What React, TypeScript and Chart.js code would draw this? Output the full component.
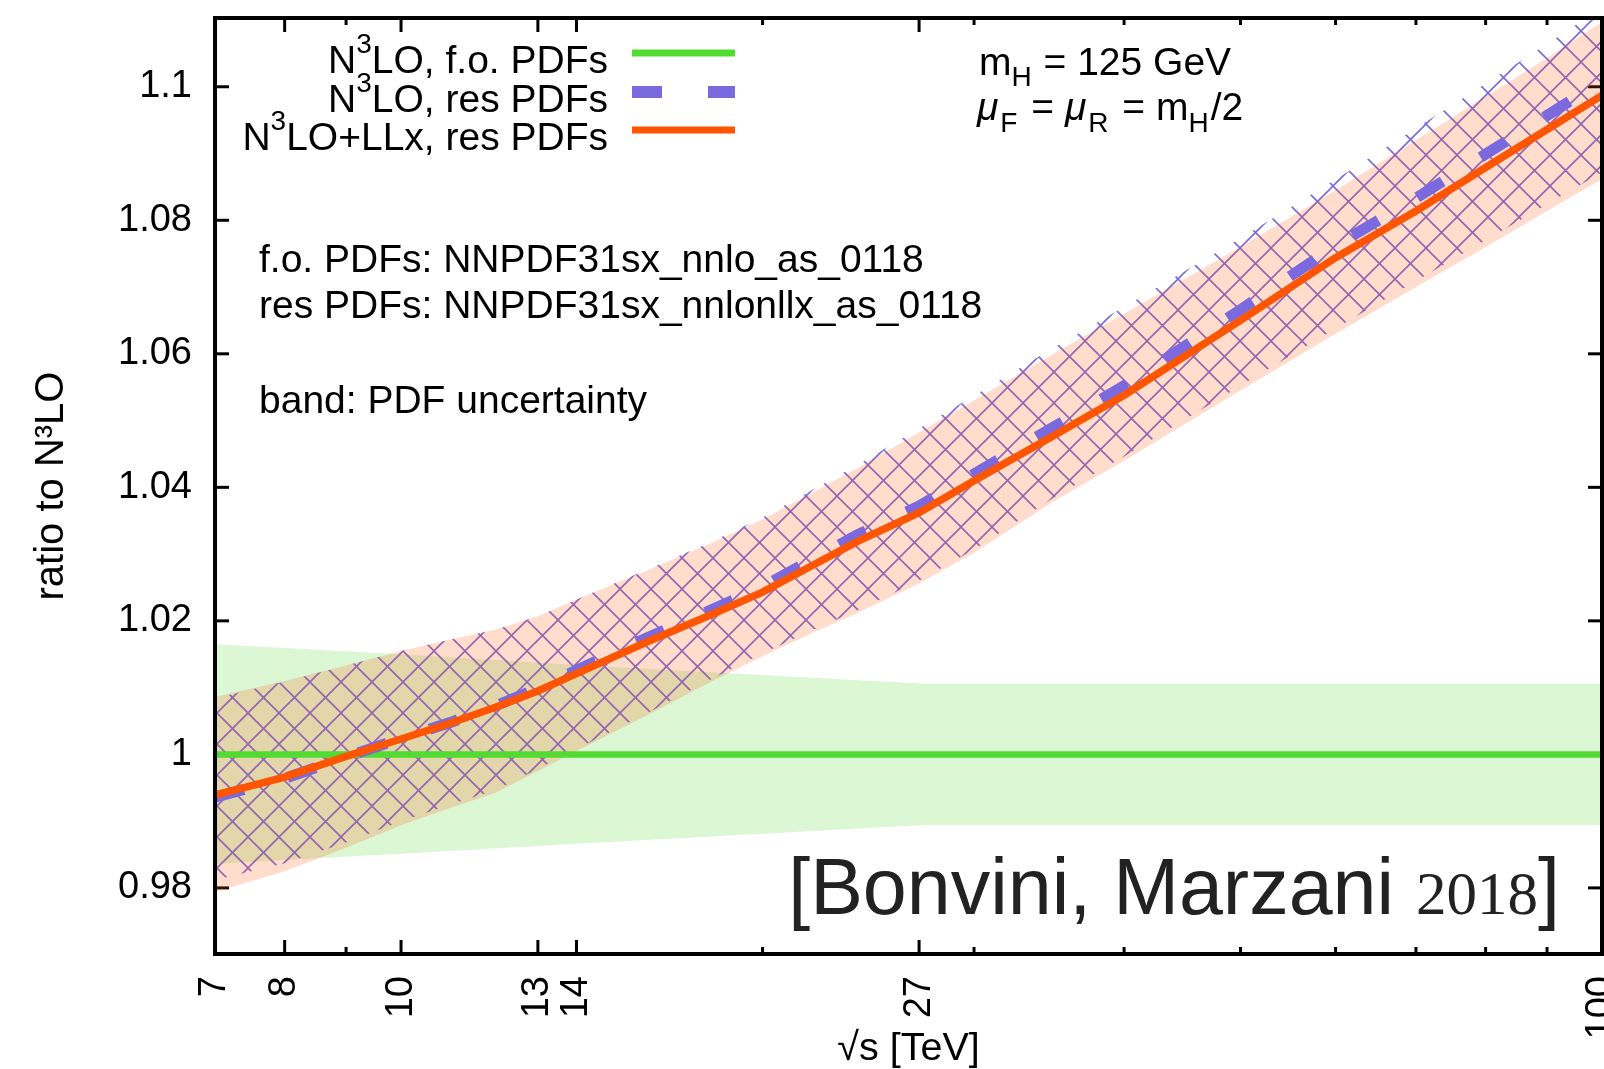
import React, { useEffect, useRef } from 'react';
import { Chart, registerables } from 'chart.js';

Chart.register(...registerables);

// ---------------- data ----------------
const sqrtS = [7, 8, 9, 10, 11, 12, 13, 14, 16, 18, 20, 22, 24, 27, 30, 35, 40, 50, 60, 70, 80, 90, 100];

// N3LO+LLx, res PDFs (central) and its PDF band
const llxRes = [0.9939, 0.9966, 0.9997, 1.0023, 1.0047, 1.0071, 1.0095, 1.0121, 1.0168, 1.0207, 1.0243, 1.0283, 1.0319, 1.0362, 1.0410, 1.0478, 1.0538, 1.0650, 1.0744, 1.0814, 1.0879, 1.0936, 1.0987];
const llxResHi = [1.0086, 1.0110, 1.0133, 1.0155, 1.0172, 1.0187, 1.0207, 1.0232, 1.0275, 1.0314, 1.0352, 1.0392, 1.0429, 1.0482, 1.0530, 1.0601, 1.0660, 1.0760, 1.0845, 1.0920, 1.0985, 1.1043, 1.1097];
const llxResLo = [0.9794, 0.9825, 0.9860, 0.9894, 0.9920, 0.9943, 0.9975, 1.0005, 1.0058, 1.0106, 1.0147, 1.0182, 1.0212, 1.0256, 1.0302, 1.0380, 1.0440, 1.0545, 1.0630, 1.0700, 1.0760, 1.0814, 1.0862];

// N3LO, res PDFs (central) and its PDF band (hatched)
const n3loRes = [0.9936, 0.9964, 0.9996, 1.0024, 1.0048, 1.0073, 1.0099, 1.0126, 1.0174, 1.0214, 1.0251, 1.0292, 1.0329, 1.0372, 1.0420, 1.0491, 1.0552, 1.0666, 1.0762, 1.0833, 1.0899, 1.0957, 1.1009];
const n3loResHi = [1.0084, 1.0109, 1.0133, 1.0155, 1.0172, 1.0187, 1.0207, 1.0232, 1.0276, 1.0316, 1.0355, 1.0396, 1.0434, 1.0488, 1.0537, 1.0610, 1.0670, 1.0773, 1.0861, 1.0938, 1.1005, 1.1064, 1.1119];
const n3loResLo = [0.9812, 0.9837, 0.9868, 0.9900, 0.9925, 0.9947, 0.9978, 1.0008, 1.0061, 1.0110, 1.0151, 1.0186, 1.0216, 1.0260, 1.0307, 1.0385, 1.0446, 1.0552, 1.0638, 1.0709, 1.0770, 1.0824, 1.0872];

// N3LO, f.o. PDFs (reference = 1) and its PDF band
const foS = [7, 10, 14, 20, 27, 100];
const foHi = [1.0165, 1.0150, 1.0134, 1.0119, 1.0106, 1.0106];
const foLo = [0.9836, 0.9851, 0.9866, 0.9881, 0.9894, 0.9894];
const foLineS = [7, 100];
const foLine = [1, 1];

// axes
const xTickLabels = [7, 8, 10, 13, 14, 27, 100];
const xMinorTicks = [9, 20, 30, 40, 50, 60, 70, 80, 90];
const yTicks = [0.98, 1, 1.02, 1.04, 1.06, 1.08, 1.1];

// ---------------- styles ----------------
const SANS = '"Liberation Sans", Arial, Helvetica, sans-serif';
const SERIF = '"Liberation Serif", "Times New Roman", serif';
const GREEN = '#52dc32';
const PURPLE = '#7a6ade';
const ORANGE = '#ff5500';
const PINK_FILL = 'rgba(255, 80, 0, 0.2)';
const GREEN_FILL = 'rgba(80, 215, 40, 0.2)';
const NONE = 'rgba(0,0,0,0)';
const TXT = 39;
const SUB = 28;

function pts(xs: number[], ys: number[]) {
  return xs.map((x, i) => ({ x, y: ys[i] }));
}

type Part = { t: string; size: number; dy?: number; dx?: number; italic?: boolean; serif?: boolean };

function fontOf(p: Part) {
  return `${p.italic ? 'italic ' : ''}${p.size}px ${p.serif ? SERIF : SANS}`;
}

function drawRich(ctx: CanvasRenderingContext2D, parts: Part[], x: number, y: number, align: 'left' | 'right' = 'left') {
  ctx.save();
  ctx.textAlign = 'left';
  ctx.textBaseline = 'alphabetic';
  const ws = parts.map((p) => {
    ctx.font = fontOf(p);
    return ctx.measureText(p.t).width + (p.dx || 0);
  });
  const total = ws.reduce((a, b) => a + b, 0);
  let cx = align === 'right' ? x - total : x;
  parts.forEach((p, i) => {
    ctx.font = fontOf(p);
    ctx.fillText(p.t, cx, y + (p.dy || 0));
    cx += ws[i];
  });
  ctx.restore();
}

function makeHatch(ctx: CanvasRenderingContext2D): CanvasPattern | string {
  const d = 31;
  const c = document.createElement('canvas');
  c.width = d;
  c.height = d;
  const g = c.getContext('2d');
  if (!g) return PURPLE;
  g.strokeStyle = PURPLE;
  g.lineWidth = 1.6;
  for (const off of [-d, 0, d]) {
    g.beginPath();
    g.moveTo(off - 2, -2);
    g.lineTo(off + d + 2, d + 2);
    g.stroke();
    g.beginPath();
    g.moveTo(off + d + 2, -2);
    g.lineTo(off - 2, d + 2);
    g.stroke();
  }
  return ctx.createPattern(c, 'repeat') || PURPLE;
}

export default function App() {
  const ref = useRef<HTMLCanvasElement>(null);

  useEffect(() => {
    document.body.style.margin = '0';
    const canvas = ref.current;
    if (!canvas) return;
    const ctx = canvas.getContext('2d');
    if (!ctx) return;
    const hatch = makeHatch(ctx);

    const decor = {
      id: 'decor',
      beforeDatasetsDraw(chart: any) {
        const { ctx: c, chartArea: a, scales } = chart;
        const xs = scales.x;
        const ys = scales.y;
        c.save();
        c.strokeStyle = '#000';
        c.lineWidth = 3;
        const line = (x1: number, y1: number, x2: number, y2: number) => {
          c.beginPath();
          c.moveTo(x1, y1);
          c.lineTo(x2, y2);
          c.stroke();
        };
        const major = 14;
        const minor = 7;
        xTickLabels.forEach((v) => {
          const px = xs.getPixelForValue(v);
          line(px, a.bottom, px, a.bottom - major);
          line(px, a.top, px, a.top + major);
        });
        xMinorTicks.forEach((v) => {
          const px = xs.getPixelForValue(v);
          line(px, a.bottom, px, a.bottom - minor);
          line(px, a.top, px, a.top + minor);
        });
        yTicks.forEach((v) => {
          const py = ys.getPixelForValue(v);
          line(a.left, py, a.left + major, py);
          line(a.right, py, a.right - major, py);
        });
        c.restore();
      },
      afterDatasetsDraw(chart: any) {
        const { ctx: c, chartArea: a } = chart;
        c.save();
        c.strokeStyle = '#000';
        c.lineWidth = 4;
        c.strokeRect(a.left, a.top, a.right - a.left, a.bottom - a.top);
        c.restore();
      },
      afterDraw(chart: any) {
        const c: CanvasRenderingContext2D = chart.ctx;
        c.save();
        c.fillStyle = '#000';
        // legend
        const rows = [
          { parts: [{ t: 'N', size: TXT }, { t: '3', size: SUB, dy: -20 }, { t: 'LO, f.o. PDFs', size: TXT }], y: 73, ly: 53, color: GREEN, w: 7, dash: [] as number[] },
          { parts: [{ t: 'N', size: TXT }, { t: '3', size: SUB, dy: -20 }, { t: 'LO, res PDFs', size: TXT }], y: 112, ly: 92, color: PURPLE, w: 12, dash: [30, 46] },
          { parts: [{ t: 'N', size: TXT }, { t: '3', size: SUB, dy: -20 }, { t: 'LO+LLx, res PDFs', size: TXT }], y: 150, ly: 130, color: ORANGE, w: 7, dash: [] as number[] },
        ];
        rows.forEach((r) => {
          drawRich(c, r.parts, 608, r.y, 'right');
          c.save();
          c.strokeStyle = r.color;
          c.lineWidth = r.w;
          c.lineCap = 'butt';
          c.setLineDash(r.dash);
          c.beginPath();
          c.moveTo(632, r.ly);
          c.lineTo(735, r.ly);
          c.stroke();
          c.restore();
        });
        // physics parameters
        drawRich(c, [
          { t: 'm', size: TXT }, { t: 'H', size: SUB, dy: 11, dx: 1 }, { t: ' = 125 GeV', size: TXT },
        ], 979, 75);
        drawRich(c, [
          { t: 'μ', size: TXT, italic: true, dx: 2 }, { t: 'F', size: SUB, dy: 12, dx: 3 }, { t: ' = ', size: TXT },
          { t: 'μ', size: TXT, italic: true, dx: 2 }, { t: 'R', size: SUB, dy: 12, dx: 3 }, { t: ' = m', size: TXT },
          { t: 'H', size: SUB, dy: 12, dx: 2 }, { t: '/2', size: TXT },
        ], 977, 120);
        // PDF info
        drawRich(c, [{ t: 'f.o. PDFs: NNPDF31sx_nnlo_as_0118', size: TXT }], 259, 272);
        drawRich(c, [{ t: 'res PDFs: NNPDF31sx_nnlonllx_as_0118', size: TXT }], 259, 318);
        drawRich(c, [{ t: 'band: PDF uncertainty', size: TXT }], 259, 413);
        // citation
        c.fillStyle = '#222';
        drawRich(c, [
          { t: '[Bonvini, Marzani ', size: 79 },
          { t: '2018', size: 61, serif: true },
          { t: ']', size: 79 },
        ], 1560, 914, 'right');
        c.restore();
      },
    };

    const edge = { borderColor: NONE, borderWidth: 0, pointRadius: 0 };

    const chart = new Chart(ctx, {
      type: 'line',
      data: {
        datasets: [
          { label: 'f.o. band hi', data: pts(foS, foHi), fill: '+1', backgroundColor: GREEN_FILL, order: 9, ...edge },
          { label: 'f.o. band lo', data: pts(foS, foLo), fill: false, order: 8, ...edge },
          { label: 'res band hi', data: pts(sqrtS, n3loResHi), fill: '+1', backgroundColor: hatch as any, order: 7, ...edge },
          { label: 'res band lo', data: pts(sqrtS, n3loResLo), fill: false, order: 6, ...edge },
          { label: 'LLx band hi', data: pts(sqrtS, llxResHi), fill: '+1', backgroundColor: PINK_FILL, order: 5, ...edge },
          { label: 'LLx band lo', data: pts(sqrtS, llxResLo), fill: false, order: 4, ...edge },
          { label: 'N3LO, f.o. PDFs', data: pts(foLineS, foLine), fill: false, borderColor: GREEN, borderWidth: 6.5, pointRadius: 0, order: 3 },
          { label: 'N3LO, res PDFs', data: pts(sqrtS, n3loRes), fill: false, borderColor: PURPLE, borderWidth: 11, borderDash: [30, 45], pointRadius: 0, order: 2 },
          { label: 'N3LO+LLx, res PDFs', data: pts(sqrtS, llxRes), fill: false, borderColor: ORANGE, borderWidth: 7.5, pointRadius: 0, order: 1 },
        ],
      },
      options: {
        responsive: false,
        maintainAspectRatio: false,
        devicePixelRatio: 1,
        animation: false,
        events: [],
        layout: { padding: { top: 18, right: 2, left: 0, bottom: 0 }, autoPadding: false } as any,
        elements: { point: { radius: 0 }, line: { tension: 0 } },
        plugins: {
          legend: { display: false },
          tooltip: { enabled: false },
        },
        scales: {
          x: {
            type: 'logarithmic',
            min: 7,
            max: 100,
            grid: { display: false, drawTicks: false },
            border: { display: false },
            afterBuildTicks: (s: any) => {
              s.ticks = xTickLabels.map((v) => ({ value: v }));
            },
            afterFit: (s: any) => {
              s.height = 115;
              s.paddingLeft = 0;
              s.paddingRight = 0;
            },
            ticks: {
              autoSkip: false,
              minRotation: 90,
              maxRotation: 90,
              padding: 22,
              color: '#000',
              font: { family: SANS, size: 38 },
              callback: (v: any) => String(v),
            },
            title: {
              display: true,
              text: '√s [TeV]',
              color: '#000',
              font: { family: SANS, size: 39.5, lineHeight: 1 },
              padding: { top: 0, bottom: 0 },
            },
          },
          y: {
            type: 'linear',
            min: 0.9701,
            max: 1.1103,
            grid: { display: false, drawTicks: false },
            border: { display: false },
            afterBuildTicks: (s: any) => {
              s.ticks = yTicks.map((v) => ({ value: v }));
            },
            afterFit: (s: any) => {
              s.width = 215;
              s.paddingTop = 0;
              s.paddingBottom = 0;
            },
            ticks: {
              padding: 23,
              color: '#000',
              font: { family: SANS, size: 38 },
              callback: (v: any) => String(v),
            },
            title: {
              display: true,
              text: 'ratio to N³LO',
              color: '#000',
              font: { family: SANS, size: 40, lineHeight: 1 },
              padding: { top: 32, bottom: 0 },
            },
          },
        },
      },
      plugins: [decor],
    } as any);

    return () => chart.destroy();
  }, []);

  return (
    <div style={{ width: 1604, height: 1069 }}>
      <canvas ref={ref} width={1604} height={1069} style={{ display: 'block', width: 1604, height: 1069 }} />
    </div>
  );
}
